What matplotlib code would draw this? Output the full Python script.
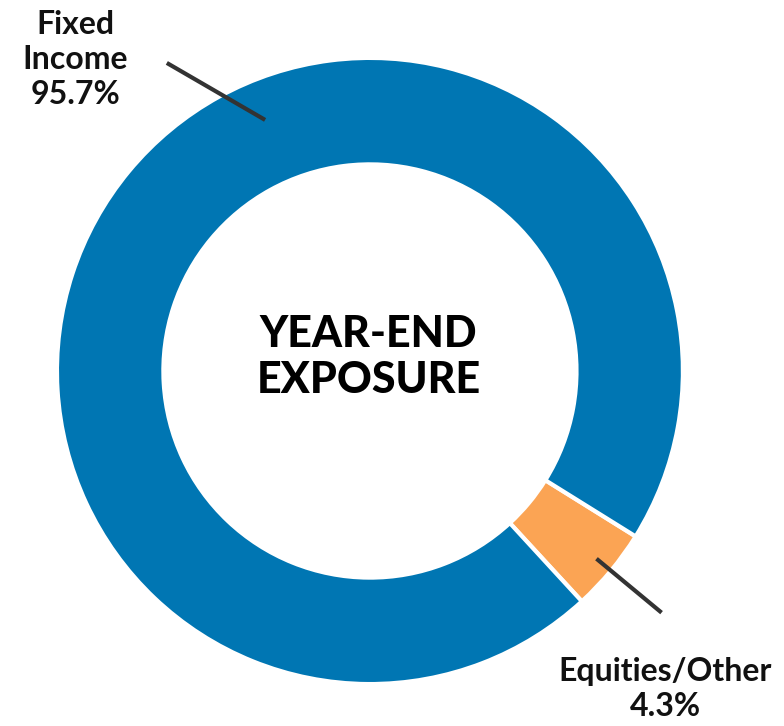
import matplotlib.pyplot as plt
import numpy as np

labels = ["Equities/Other", "Fixed\nIncome"]
values = [4.3, 95.7]
colors = ["#FBA454", "#0076B3"]

plt.rcParams['font.family'] = ['Lato', 'DejaVu Sans']

fig = plt.figure(figsize=(7.84, 7.26), dpi=100)
ax = fig.add_axes([0, 0, 1, 1])

wedges, _ = ax.pie(values, colors=colors, startangle=-31.9, counterclock=False,
                   radius=1.0, wedgeprops=dict(width=0.34, edgecolor="white", linewidth=3))

ax.set_xlim(-1.182, 1.323)
ax.set_ylim(-1.134, 1.185)
ax.set_aspect('auto')
ax.axis('off')

ax.text(-0.005, 0.045, "YEAR-END\nEXPOSURE", ha='center', va='center',
        fontsize=31, fontweight='black', linespacing=1.2, color='black')

# leader lines
w_eq = wedges[0]
mid = np.radians((w_eq.theta1 + w_eq.theta2) / 2)
ax.plot([0.94 * np.cos(mid), 1.21 * np.cos(mid)], [0.94 * np.sin(mid), 1.21 * np.sin(mid)],
        color='#333333', lw=3, solid_capstyle='butt')
ax.plot([-0.335, -0.649], [0.802, 0.984], color='#333333', lw=3, solid_capstyle='butt')

ax.text(-0.942, 0.995, f"{labels[1]}\n{values[1]}%", ha='center', va='center',
        fontsize=23, fontweight='bold', linespacing=1.25, color='#111111')
ax.text(0.943, -1.015, f"{labels[0]}\n{values[0]}%", ha='center', va='center',
        fontsize=23, fontweight='bold', linespacing=1.25, color='#111111')

fig.savefig("out.png", dpi=100)
